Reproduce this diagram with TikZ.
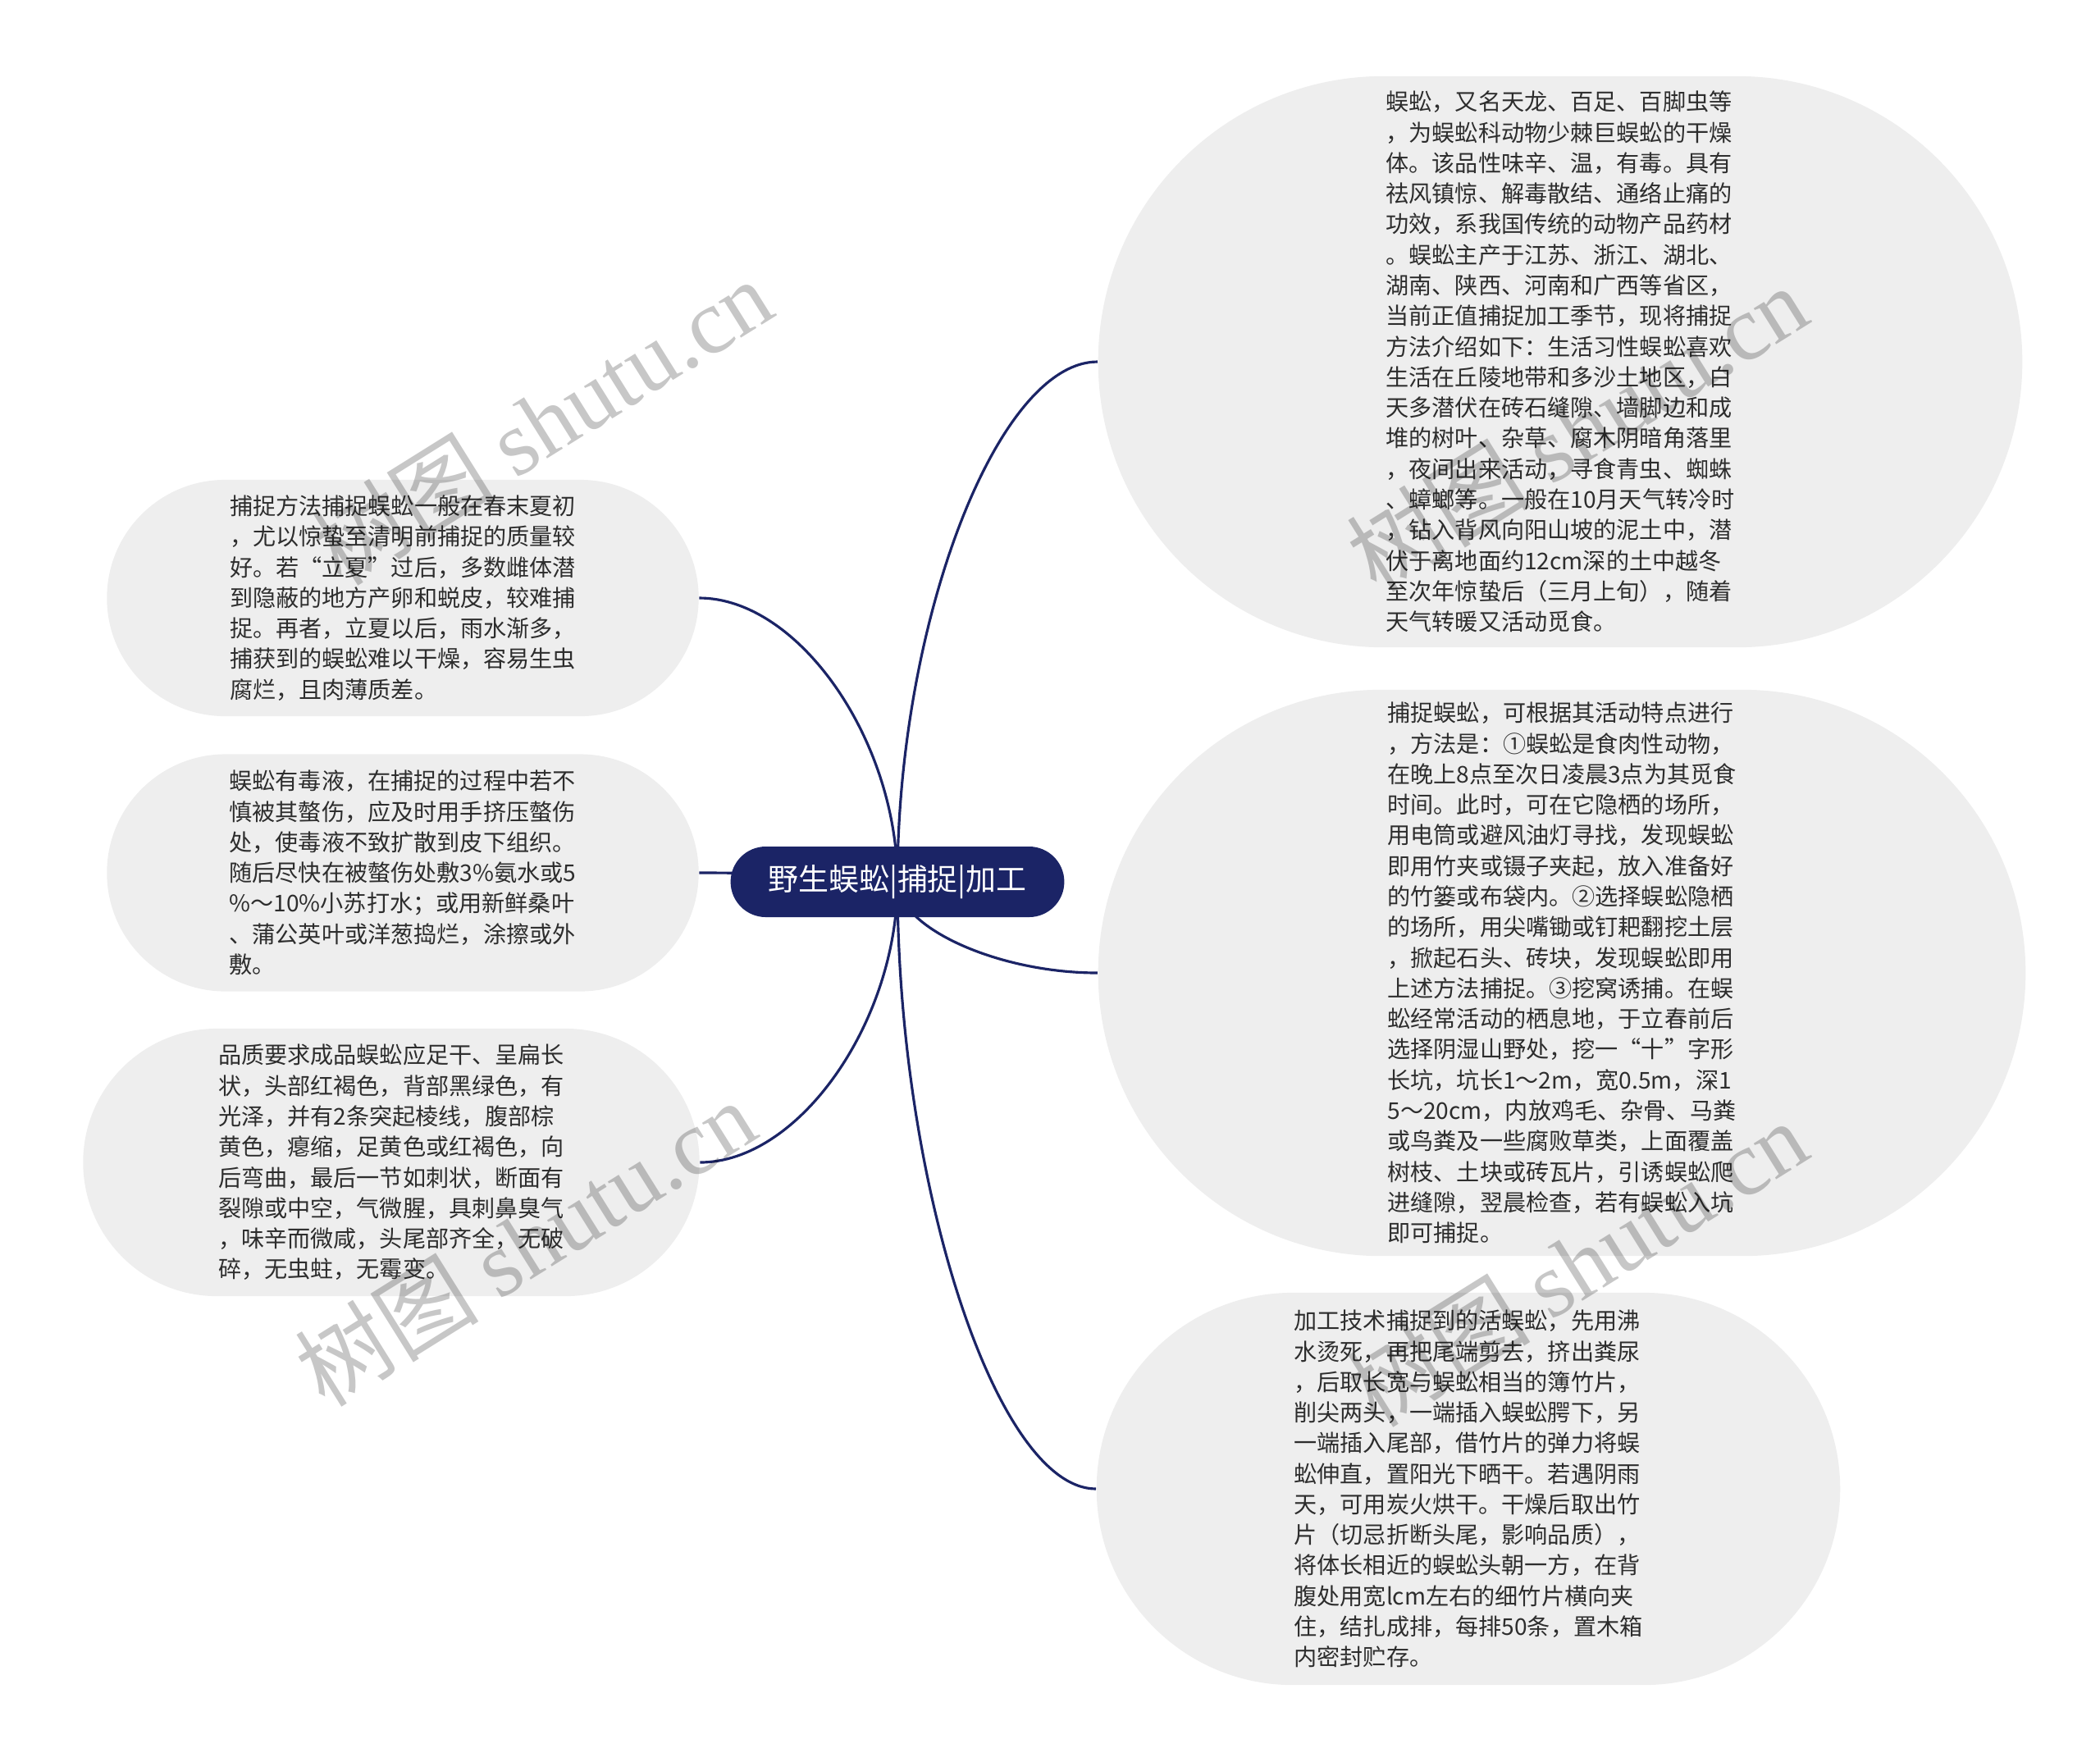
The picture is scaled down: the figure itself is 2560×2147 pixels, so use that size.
\documentclass[tikz,border=0pt]{standalone}
\usepackage{fontspec}
\newfontfamily\cjkfont{Noto Sans CJK SC}
\newfontfamily\wmfont{Liberation Serif}
\usetikzlibrary{shapes.misc,calc,positioning}
\definecolor{navy}{RGB}{27,36,102}
\definecolor{leafgray}{RGB}{238,238,238}
\definecolor{textgray}{RGB}{45,45,45}
\pgfdeclarelayer{bg}
\pgfsetlayers{bg,main}
\tikzset{
    root/.style ={rounded rectangle, fill=navy, text=white, minimum width=4.3cm, minimum height=0.86cm,
                  font=\cjkfont\fontsize{10.5}{12}\selectfont},
    leaf/.style ={rounded rectangle, fill=leafgray, text=textgray, align=left, inner sep=0pt,
                  font=\cjkfont\fontsize{8}{10.6}\selectfont},
    link/.style ={draw=navy, line width=0.9pt,
                  to path={.. controls ($(\tikztostart)!0.5!(\tikztostart |- \tikztotarget)$)
                           and ($(\tikztotarget)!0.5!(\tikztostart |- \tikztotarget)$) .. (\tikztotarget)}},
    wmark/.style={rotate=32, text=black, text opacity=0.22, inner sep=0pt,
                  font=\fontsize{32}{36}\selectfont}
}

\begin{document}
\begin{tikzpicture}[x=0.01cm,y=-0.01cm]
      \useasboundingbox (0,0) rectangle (2560,2147);

      \node[root] (root) at (1094,1075) {野生蜈蚣|捕捉|加工};

      % right side
      \node[leaf, minimum width=11.26cm, minimum height=6.96cm] (r1) at (1902,441) {蜈蚣，又名天龙、百足、百脚虫等\\
，为蜈蚣科动物少棘巨蜈蚣的干燥\\
体。该品性味辛、温，有毒。具有\\
祛风镇惊、解毒散结、通络止痛的\\
功效，系我国传统的动物产品药材\\
。蜈蚣主产于江苏、浙江、湖北、\\
湖南、陕西、河南和广西等省区，\\
当前正值捕捉加工季节，现将捕捉\\
方法介绍如下：生活习性蜈蚣喜欢\\
生活在丘陵地带和多沙土地区，白\\
天多潜伏在砖石缝隙、墙脚边和成\\
堆的树叶、杂草、腐木阴暗角落里\\
，夜间出来活动，寻食青虫、蜘蛛\\
、蟑螂等。一般在10月天气转冷时\\
，钻入背风向阳山坡的泥土中，潜\\
伏于离地面约12cm深的土中越冬\\
至次年惊蛰后（三月上旬），随着\\
天气转暖又活动觅食。};
      \node[leaf, minimum width=11.30cm, minimum height=6.90cm] (r2) at (1904,1186) {捕捉蜈蚣，可根据其活动特点进行\\
，方法是：①蜈蚣是食肉性动物，\\
在晚上8点至次日凌晨3点为其觅食\\
时间。此时，可在它隐栖的场所，\\
用电筒或避风油灯寻找，发现蜈蚣\\
即用竹夹或镊子夹起，放入准备好\\
的竹篓或布袋内。②选择蜈蚣隐栖\\
的场所，用尖嘴锄或钉耙翻挖土层\\
，掀起石头、砖块，发现蜈蚣即用\\
上述方法捕捉。③挖窝诱捕。在蜈\\
蚣经常活动的栖息地，于立春前后\\
选择阴湿山野处，挖一“十”字形\\
长坑，坑长1～2m，宽0.5m，深1\\
5～20cm，内放鸡毛、杂骨、马粪\\
或鸟粪及一些腐败草类，上面覆盖\\
树枝、土块或砖瓦片，引诱蜈蚣爬\\
进缝隙，翌晨检查，若有蜈蚣入坑\\
即可捕捉。};
      \node[leaf, minimum width=9.06cm, minimum height=4.78cm] (r3) at (1790,1815) {加工技术捕捉到的活蜈蚣，先用沸\\
水烫死，再把尾端剪去，挤出粪尿\\
，后取长宽与蜈蚣相当的簿竹片，\\
削尖两头，一端插入蜈蚣腭下，另\\
一端插入尾部，借竹片的弹力将蜈\\
蚣伸直，置阳光下晒干。若遇阴雨\\
天，可用炭火烘干。干燥后取出竹\\
片（切忌折断头尾，影响品质），\\
将体长相近的蜈蚣头朝一方，在背\\
腹处用宽lcm左右的细竹片横向夹\\
住，结扎成排，每排50条，置木箱\\
内密封贮存。};

      % left side
      \node[leaf, minimum width=7.21cm, minimum height=2.88cm] (l1) at (491,729) {捕捉方法捕捉蜈蚣一般在春末夏初\\
，尤以惊蛰至清明前捕捉的质量较\\
好。若“立夏”过后，多数雌体潜\\
到隐蔽的地方产卵和蜕皮，较难捕\\
捉。再者，立夏以后，雨水渐多，\\
捕获到的蜈蚣难以干燥，容易生虫\\
腐烂，且肉薄质差。};
      \node[leaf, minimum width=7.21cm, minimum height=2.89cm] (l2) at (491,1064) {蜈蚣有毒液，在捕捉的过程中若不\\
慎被其螫伤，应及时用手挤压螫伤\\
处，使毒液不致扩散到皮下组织。\\
随后尽快在被螫伤处敷3\%氨水或5\\
\%～10\%小苏打水；或用新鲜桑叶\\
、蒲公英叶或洋葱捣烂，涂擦或外\\
敷。};
      \node[leaf, minimum width=7.51cm, minimum height=3.26cm] (l3) at (477,1417) {品质要求成品蜈蚣应足干、呈扁长\\
状，头部红褐色，背部黑绿色，有\\
光泽，并有2条突起棱线，腹部棕\\
黄色，瘪缩，足黄色或红褐色，向\\
后弯曲，最后一节如刺状，断面有\\
裂隙或中空，气微腥，具刺鼻臭气\\
，味辛而微咸，头尾部齐全，无破\\
碎，无虫蛀，无霉变。};

      \begin{pgfonlayer}{bg}
      \path (root.center) edge[link] (r1.west);
      \path (root.center) edge[link] (r2.west);
      \path (root.center) edge[link] (r3.west);
      \path (root.center) edge[link] (l1.east);
      \path (root.center) edge[link] (l2.east);
      \path (root.center) edge[link] (l3.east);
      \end{pgfonlayer}

      % watermarks
      \node[wmark] (wm1) at (660,514) {\cjkfont 树图 \wmfont shutu.cn};
      \node[wmark] (wm2) at (1922,522) {\cjkfont 树图 \wmfont shutu.cn};
      \node[wmark] (wm3) at (640,1515) {\cjkfont 树图 \wmfont shutu.cn};
      \node[wmark] (wm4) at (1922,1540) {\cjkfont 树图 \wmfont shutu.cn};
\end{tikzpicture}
\end{document}
